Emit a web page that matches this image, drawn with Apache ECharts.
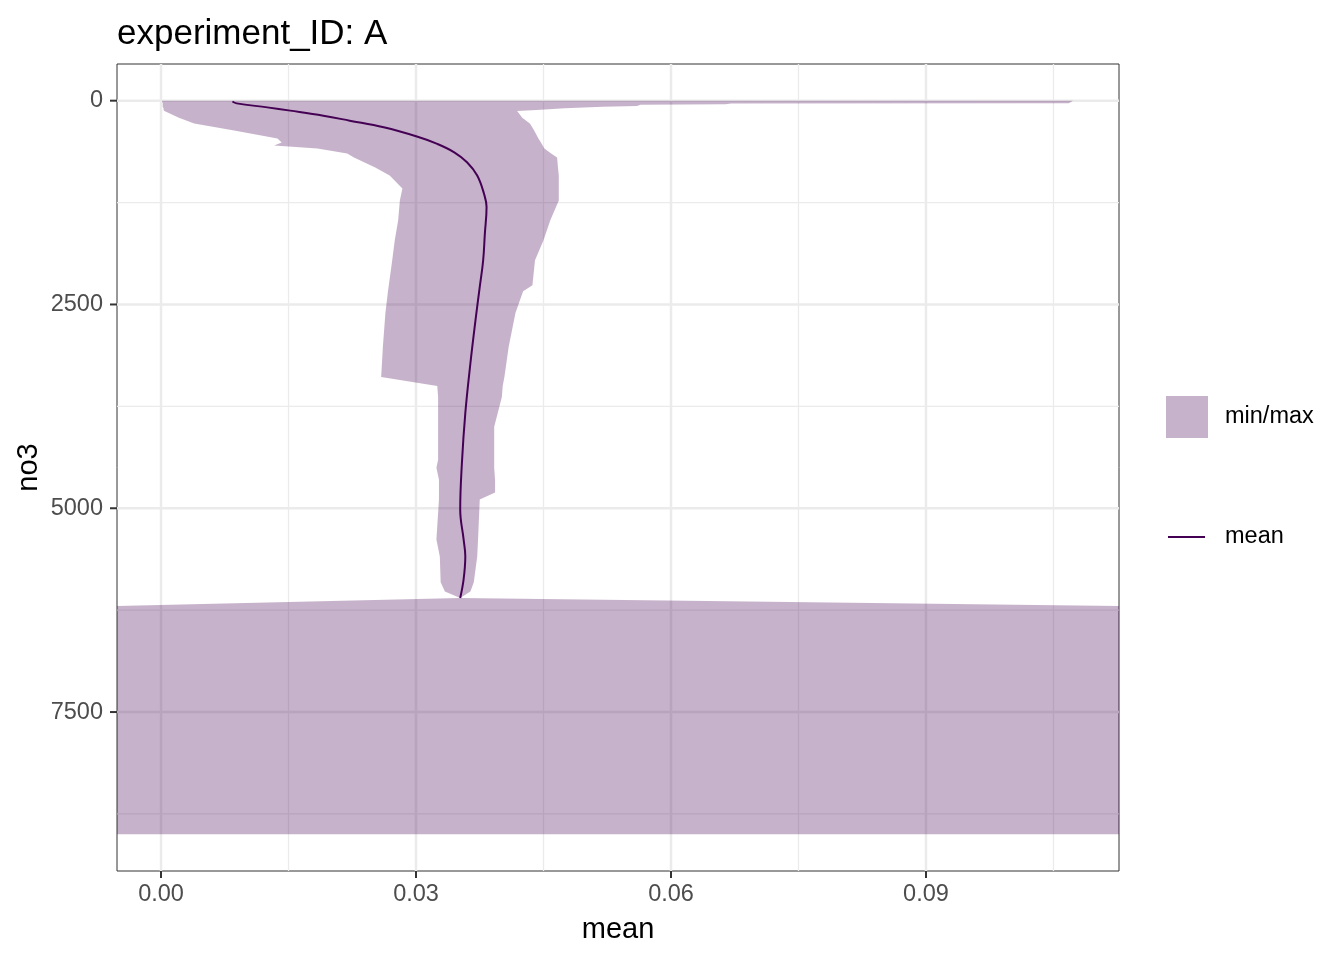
<!DOCTYPE html>
<html>
<head>
<meta charset="utf-8">
<script src="https://cdn.jsdelivr.net/npm/echarts@6/dist/echarts.min.js"></script>
<style>
html,body{margin:0;padding:0;background:#ffffff;}
#chart{width:1344px;height:960px;}
</style>
</head>
<body>
<div id="chart"></div>
<script>
// ---- data ----
// ribbon: depth (no3), min and max of "mean"; -Infinity / Infinity = panel edge (ggplot -Inf/Inf)
const ribbonDepth = [0, 30, 34, 45, 50, 65, 73, 94, 114, 128, 208, 281, 367, 465, 514, 551, 587, 648, 697, 820, 918,
  1077, 1224, 1468, 1713, 1958, 2264, 2337, 2606, 3022, 3389, 3499, 3634, 4001, 4405, 4503, 4649, 4808, 4894, 5383,
  5591, 5909, 6020, 6100, 6200, 9000];
const ribbonMin = [0.0001, 0.0002, 0.0002, 0.0002, 0.0002, 0.0002, 0.0002, 0.0003, 0.0003, 0.0004, 0.0021, 0.0039,
  0.0086, 0.0137, 0.0142, 0.0133, 0.0184, 0.0219, 0.0227, 0.0252, 0.0269, 0.0284, 0.0281, 0.0279, 0.0275, 0.0272,
  0.0268, 0.0267, 0.0264, 0.0261, 0.0259, 0.0325, 0.0326, 0.0326, 0.0326, 0.0324, 0.0327, 0.0327, 0.0327, 0.0324,
  0.0328, 0.0329, 0.0334, 0.0352, -Infinity, -Infinity];
const ribbonMax = [0.1073, 0.1068, 0.0671, 0.0664, 0.0564, 0.0560, 0.0520, 0.0475, 0.0442, 0.0419, 0.0425, 0.0434,
  0.0439, 0.0444, 0.0447, 0.0449, 0.0451, 0.0459, 0.0466, 0.0467, 0.0468, 0.0468, 0.0468, 0.0458, 0.0450, 0.0440,
  0.0437, 0.0426, 0.0417, 0.0409, 0.0404, 0.0402, 0.0401, 0.0392, 0.0392, 0.0392, 0.0393, 0.0393, 0.0375, 0.0373,
  0.0372, 0.0368, 0.0364, 0.0352, Infinity, Infinity];

// mean profile
const meanDepth = [10, 33, 82, 122, 184, 245, 327, 440, 530, 633, 755, 918, 1142, 1305, 1631, 1958, 2284, 2692,
  3221, 3833, 4445, 5016, 5383, 5588, 5873, 6100];
const meanValue = [0.0084, 0.0089, 0.0125, 0.0152, 0.0191, 0.0222, 0.0262, 0.0301, 0.0325, 0.0345, 0.0360, 0.0372,
  0.0380, 0.0383, 0.0381, 0.0379, 0.0375, 0.0370, 0.0364, 0.0358, 0.0354, 0.0352, 0.0356, 0.0358, 0.0356, 0.0352];

// ticks
const xTicks = [0, 0.03, 0.06, 0.09];
const xMinorTicks = [0.015, 0.045, 0.075, 0.105];
const yTicks = [0, 2500, 5000, 7500];
const yMinorTicks = [1250, 3750, 6250, 8750];

// axis limits (data range + 5% expansion)
const X_MIN = -0.00518, X_MAX = 0.11271;
const Y_MIN = -450, Y_MAX = 9450;

const FILL = 'rgba(68,1,84,0.3)';
const LINE = '#440154';
const GRID = '#EBEBEB';
const TICK = '#333333';
const FONT = 'Liberation Sans, Arial, sans-serif';

const chart = echarts.init(document.getElementById('chart'), null, {renderer: 'canvas'});

const clampX = v => Math.min(Math.max(v, X_MIN), X_MAX);
const meanData = meanDepth.map((d, i) => [meanValue[i], d]);

const option = {
  animation: false,
  backgroundColor: '#ffffff',
  title: {
    text: 'experiment_ID: A',
    left: 112,
    top: 12,
    textStyle: {fontFamily: FONT, fontSize: 35, fontWeight: 'normal', color: '#000000'}
  },
  graphic: [
    {
      type: 'text',
      x: 28.5,
      y: 467.5,
      rotation: Math.PI / 2,
      silent: true,
      style: {
        text: 'no3',
        fontFamily: FONT,
        fontSize: 29,
        fill: '#000000',
        align: 'center',
        verticalAlign: 'middle'
      }
    }
  ],
  legend: [
    {
      orient: 'vertical',
      left: 1166,
      top: 396,
      padding: 0,
      itemWidth: 42,
      itemHeight: 42,
      selectedMode: false,
      textStyle: {fontFamily: FONT, fontSize: 23.5, color: '#000000', padding: [0, 0, 0, 12]},
      data: [{name: 'min/max', icon: 'rect', itemStyle: {color: FILL}}]
    },
    {
      orient: 'vertical',
      left: 1168,
      top: 525,
      padding: 0,
      itemWidth: 37,
      itemHeight: 2,
      selectedMode: false,
      textStyle: {fontFamily: FONT, fontSize: 23.5, color: '#000000', padding: [0, 0, 0, 15]},
      data: [{name: 'mean', icon: 'rect', itemStyle: {color: LINE}}]
    }
  ],
  grid: {
    left: 117, right: 225, top: 64, bottom: 89,
    show: true, borderColor: '#333333', borderWidth: 1, backgroundColor: 'transparent',
    containLabel: false
  },
  xAxis: {
    type: 'value',
    min: X_MIN, max: X_MAX,
    name: 'mean',
    nameLocation: 'middle',
    nameGap: 44,
    nameTextStyle: {fontFamily: FONT, fontSize: 29, color: '#000000'},
    axisLine: {show: false, onZero: false},
    axisTick: {show: false},
    axisLabel: {
      show: true, margin: 12, fontFamily: FONT, fontSize: 23.5, color: '#4D4D4D',
      customValues: xTicks,
      formatter: v => Number(v).toFixed(2)
    },
    splitLine: {show: false},
    minorSplitLine: {show: false}
  },
  yAxis: {
    type: 'value',
    inverse: true,
    min: Y_MIN, max: Y_MAX,
    axisLine: {show: false, onZero: false},
    axisTick: {show: false},
    axisLabel: {
      show: true, margin: 14, fontFamily: FONT, fontSize: 23.5, color: '#4D4D4D',
      customValues: yTicks,
      formatter: v => String(Math.round(v))
    },
    splitLine: {show: false},
    minorSplitLine: {show: false}
  },
  series: [
    {
      name: 'grid',
      type: 'custom',
      z: 1,
      silent: true,
      clip: false,
      data: [[0, 0]],
      encode: {x: 0, y: 1},
      renderItem: function (params, api) {
        const children = [];
        const seg = (a, b, color, w) => children.push({type: 'line',
          shape: {x1: a[0], y1: a[1], x2: b[0], y2: b[1]}, style: {stroke: color, lineWidth: w}});
        const vLine = (v, w) => seg(api.coord([v, Y_MIN]), api.coord([v, Y_MAX]), GRID, w);
        const hLine = (v, w) => seg(api.coord([X_MIN, v]), api.coord([X_MAX, v]), GRID, w);
        xMinorTicks.forEach(v => vLine(v, 1.3));
        yMinorTicks.forEach(v => hLine(v, 1.3));
        xTicks.forEach(v => vLine(v, 2.5));
        yTicks.forEach(v => hLine(v, 2.5));
        // axis ticks (outside the panel)
        xTicks.forEach(v => {
          const p = api.coord([v, Y_MAX]);
          children.push({type: 'rect', shape: {x: p[0] - 1, y: p[1], width: 2, height: 7},
            style: {fill: TICK}});
        });
        yTicks.forEach(v => {
          const p = api.coord([X_MIN, v]);
          children.push({type: 'rect', shape: {x: p[0] - 7, y: p[1] - 1, width: 7, height: 2},
            style: {fill: TICK}});
        });
        return {type: 'group', children: children};
      }
    },
    {
      name: 'min/max',
      type: 'custom',
      z: 2,
      silent: true,
      itemStyle: {color: FILL},
      data: [[ribbonMax[0], ribbonDepth[0]]],
      encode: {x: 0, y: 1},
      renderItem: function (params, api) {
        const pts = [];
        for (let i = 0; i < ribbonDepth.length; i++) {
          pts.push(api.coord([clampX(ribbonMax[i]), ribbonDepth[i]]));
        }
        for (let i = ribbonDepth.length - 1; i >= 0; i--) {
          pts.push(api.coord([clampX(ribbonMin[i]), ribbonDepth[i]]));
        }
        return {
          type: 'polygon',
          shape: {points: pts},
          style: {fill: FILL, stroke: null, lineWidth: 0}
        };
      }
    },
    {
      name: 'mean',
      type: 'line',
      z: 3,
      data: meanData,
      symbol: 'none',
      showSymbol: false,
      smooth: 0.4,
      lineStyle: {color: LINE, width: 2},
      itemStyle: {color: LINE},
      silent: true
    }
  ]
};

chart.setOption(option);
</script>
</body>
</html>
